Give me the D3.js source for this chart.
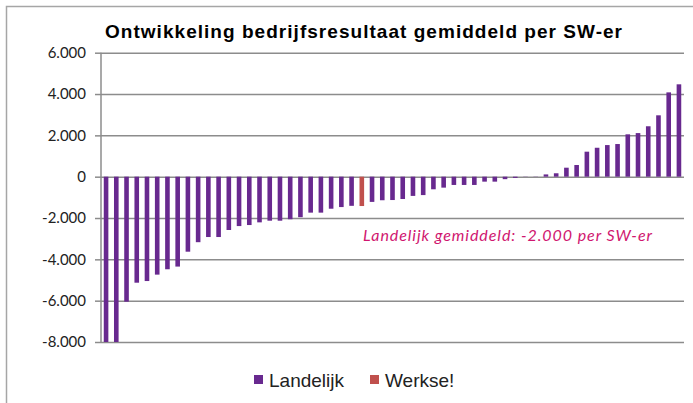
<!DOCTYPE html>
<html lang="nl">
<head>
    <meta charset="UTF-8">
    <title>Ontwikkeling bedrijfsresultaat gemiddeld per SW-er</title>
    <script src="https://d3js.org/d3.v7.min.js"></script>
    <style>
        body { margin: 0; background: #fff; }
        .grid line { stroke: #8c8c8c; stroke-width: 1.5; }
        .y.axis text { font: 15px Lato, sans-serif; fill: #222; }
        .y.axis line, .y.axis path { stroke: #8c8c8c; stroke-width: 1.5; }
        .title { font: bold 19px "Liberation Sans", Arial, sans-serif; fill: #000; }
        .note { font: italic 16px Lato, sans-serif; fill: #d0166f; }
        .legend text { font: 19px "Liberation Sans", Arial, sans-serif; fill: #222; }
    </style>
</head>
<body>
    <script>
        // bedrijfsresultaat per SW-er, gesorteerd van laag naar hoog
        const results = [
            -8000, -8000, -6050, -5130, -5050, -4740, -4480, -4350, -3630, -3170,
            -2920, -2920, -2580, -2390, -2340, -2210, -2130, -2130, -2060, -1960,
            -1740, -1740, -1550, -1470, -1410, -1420, -1220, -1140, -1130, -1080,
            -930, -890, -610, -530, -400, -400, -400, -240, -240, -120,
            -60, -10, 10, 110, 165, 435, 565, 1210, 1400, 1530,
            1580, 2050, 2110, 2440, 2970, 4080, 4470
        ]
        const werkseRank = 25
        const ranks = results.map((d, i) => i)
        const legendLabels = ["Landelijk", "Werkse!"]
        const yTicks = [-8000, -6000, -4000, -2000, 0, 2000, 4000, 6000]

        const colors = {Landelijk: "#68298f", "Werkse!": "#c0504d"}
        const plot = {left: 101, right: 684, top: 52.7, bottom: 342}

        const nl = d3.formatLocale({decimal: ",", thousands: ".", grouping: [3], currency: ["€", ""], minus: "-"})
        const fmt = nl.format(",d")

        const svg = d3.select("body").append("svg")
            .attr("width", 693)
            .attr("height", 403)

        // kader
        svg.append("path")
            .attr("d", "M6.5,403 V6.5 H693")
            .attr("fill", "none")
            .attr("stroke", "#a6a6a6")
            .attr("stroke-width", 1.5)

        const x = d3.scaleBand()
            .domain(ranks)
            .range([plot.left, plot.right])
            .paddingInner(0.55)
            .paddingOuter(0.27)

        const y = d3.scaleLinear()
            .domain([-8000, 6000])
            .range([plot.bottom, plot.top])

        svg.append("g")
            .attr("class", "grid")
            .attr("transform", "translate(" + plot.left + ",0)")
            .call(d3.axisLeft(y).tickValues(yTicks).tickSize(-(plot.right - plot.left)).tickFormat(""))
            .call(g => g.select(".domain").remove())

        svg.append("g")
            .attr("class", "y axis")
            .attr("transform", "translate(" + plot.left + ",0)")
            .call(d3.axisLeft(y).tickValues(yTicks).tickSize(6).tickPadding(9).tickFormat(fmt))
            .call(g => g.select(".domain").attr("d", "M0," + plot.top + "V" + plot.bottom))

        svg.append("g")
            .selectAll("rect")
            .data(results)
            .enter().append("rect")
            .attr("x", (d, i) => x(i))
            .attr("y", d => y(Math.max(0, d)))
            .attr("width", x.bandwidth())
            .attr("height", d => Math.abs(y(d) - y(0)))
            .attr("fill", (d, i) => i === werkseRank ? colors["Werkse!"] : colors.Landelijk)

        svg.append("text")
            .attr("class", "title")
            .attr("x", 105)
            .attr("y", 38)
            .attr("textLength", 517)
            .attr("lengthAdjust", "spacing")
            .text("Ontwikkeling bedrijfsresultaat gemiddeld per SW-er")

        svg.append("text")
            .attr("class", "note")
            .attr("x", 363)
            .attr("y", 241)
            .attr("textLength", 289)
            .attr("lengthAdjust", "spacing")
            .text("Landelijk gemiddeld: -2.000 per SW-er")

        const legend = svg.append("g")
            .attr("class", "legend")
            .selectAll("g")
            .data(legendLabels)
            .enter().append("g")
            .attr("transform", (d, i) => "translate(" + (254 + i * 116) + ",375)")

        legend.append("rect")
            .attr("width", 9)
            .attr("height", 9)
            .attr("fill", d => colors[d])

        legend.append("text")
            .attr("x", 15)
            .attr("y", 12)
            .text(d => d)
    </script>
</body>
</html>
